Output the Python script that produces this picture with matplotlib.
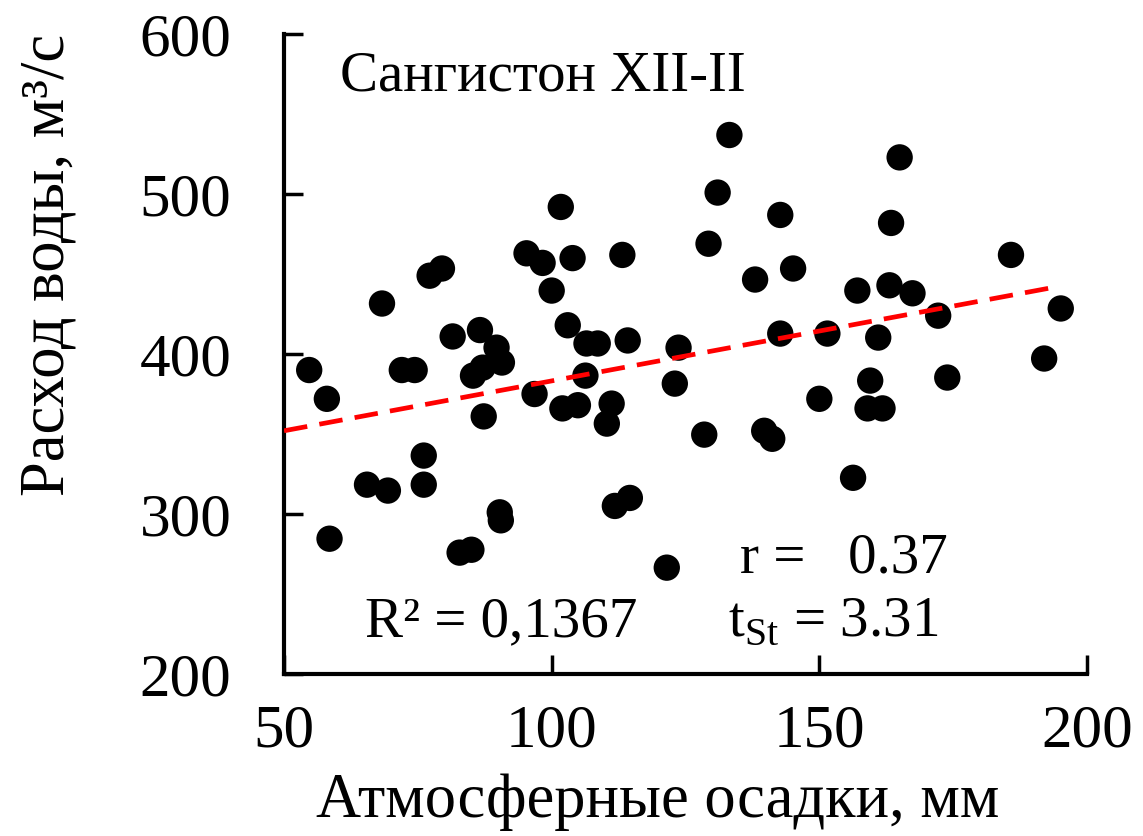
import numpy as np
import matplotlib
matplotlib.use("Agg")
import matplotlib.pyplot as plt

plt.rcParams['font.family'] = ['Liberation Serif', 'DejaVu Serif']
plt.rcParams['mathtext.fontset'] = 'custom'
plt.rcParams['mathtext.rm'] = 'Liberation Serif'

# --- data ---
precip = [133.2, 165.0, 131.0, 101.7, 142.7, 163.4, 129.3, 95.3, 113.2, 103.9,
          98.3, 185.8, 79.5, 77.2, 145.1, 138.0, 157.1, 100.0, 163.1, 167.4,
          68.3, 195.1, 172.2, 103.0, 86.6, 81.5, 142.7, 151.5, 161.0, 106.5,
          108.6, 114.2, 123.7, 89.7, 90.7, 192.0, 54.7, 72.0, 74.4, 85.3,
          87.1, 106.3, 123.0, 159.5, 173.9, 58.0, 96.8, 150.0, 102.0, 104.9,
          111.2, 110.3, 159.0, 161.8, 87.3, 128.5, 139.7, 141.2, 76.1, 156.3,
          65.5, 69.4, 76.1, 111.8, 114.6, 90.3, 90.5, 58.5, 82.8, 85.0,
          121.5]
discharge = [537, 523, 501, 492, 487, 482, 469, 463, 462, 460,
             457, 462, 453.5, 449, 453.5, 446.6, 439.7, 439.7, 443, 438,
             431.6, 428.5, 424, 418, 415, 411, 412.8, 412.8, 410.3, 406.6,
             406.6, 408.5, 404, 404, 394.7, 397.2, 390, 390, 390, 386.5,
             391.5, 386.5, 381.5, 383.4, 385.3, 372, 375, 372, 366, 368,
             369, 356.5, 366, 366, 361, 349.6, 352, 347, 336.5, 322.6,
             318.3, 314.6, 318.3, 305, 310, 301, 296, 284.5, 275.8, 277.6,
             266.4]

# linear trend as drawn on the chart
trend_slope = 0.624
trend_icpt = 320.8
trend_x = [50, 194]

title = "Сангистон XII-II"
xlabel = "Атмосферные осадки, мм"
ylabel = "Расход воды, м³/с"

fig = plt.figure(figsize=(11.43, 8.36), dpi=100)
ax = fig.add_axes([0.2485, 0.194, 0.7025, 0.765])

ax.scatter(precip, discharge, s=360, color='black', edgecolors='none', zorder=3)
tx = np.array(trend_x)
ax.plot(tx, trend_icpt + trend_slope * tx, color='red', lw=3.4,
        linestyle=(0, (5, 2.6)), zorder=4)

ax.set_xlim(50, 200)
ax.set_ylim(200, 600)
ax.set_xticks([50, 100, 150, 200])
ax.set_yticks([200, 300, 400, 500, 600])

for s in ['top', 'right']:
    ax.spines[s].set_visible(False)
for s in ['left', 'bottom']:
    ax.spines[s].set_linewidth(3)

ax.tick_params(axis='both', direction='in', length=14, width=2.5,
               labelsize=44)
ax.tick_params(axis='y', pad=38)
ax.tick_params(axis='x', pad=22)

ax.set_xlabel(xlabel, fontsize=45)
ax.xaxis.set_label_coords(0.465, -0.155)
ax.xaxis.label.set_va('top')
ax.set_ylabel(ylabel, fontsize=45)
ax.yaxis.set_label_coords(-0.257, 0.64)

ax.text(0.07, 0.975, title, transform=ax.transAxes, fontsize=41, va='top')
ax.text(0.568, 0.159, "r =   0.37", transform=ax.transAxes, fontsize=41,
        va='baseline')
ax.text(0.101, 0.059, "R² = 0,1367", transform=ax.transAxes, fontsize=41,
        va='baseline')
ax.text(0.553, 0.059, r"t$_{\rm St}$ = 3.31", transform=ax.transAxes,
        fontsize=41, va='baseline')

fig.savefig('out.png', dpi=100)
